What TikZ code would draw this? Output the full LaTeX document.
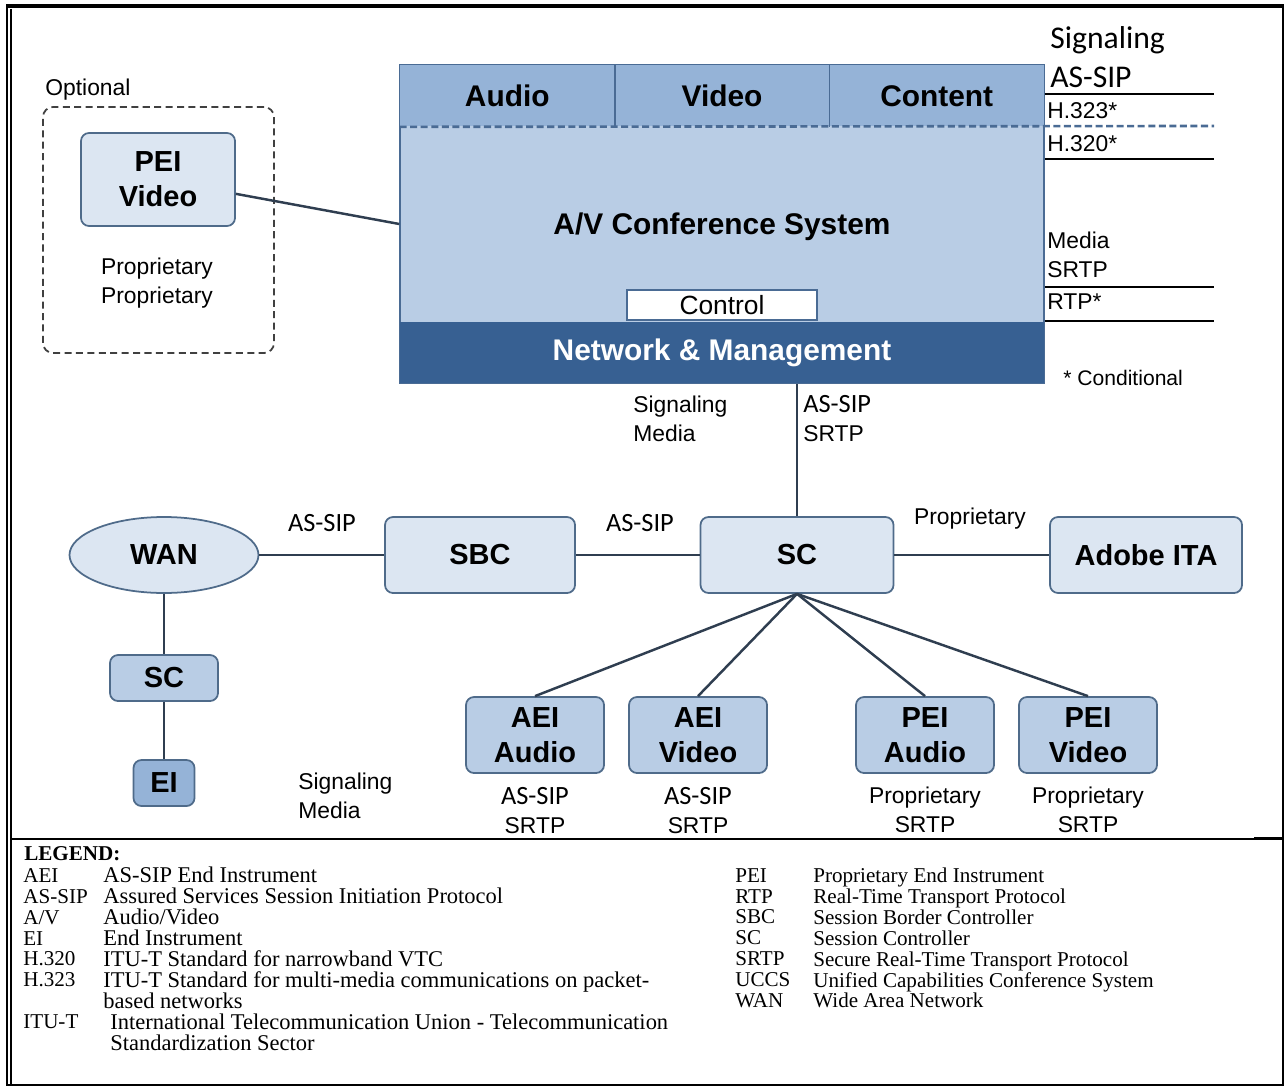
\documentclass[tikz,border=0pt]{standalone}
\usepackage{fontspec}
\setmainfont{Liberation Sans}
\newfontfamily\calibrifont{Carlito}
\newfontfamily\timesfont{Liberation Serif}
\usepackage{tikz}
\usetikzlibrary{positioning, shapes.geometric}
\definecolor{boxline}{HTML}{4F6B8A}
\definecolor{boxlight}{HTML}{DCE6F2}
\definecolor{boxmid}{HTML}{B9CDE5}
\definecolor{boxdark}{HTML}{95B3D7}
\definecolor{netblue}{HTML}{376092}
\definecolor{avline}{HTML}{4A6B94}
\definecolor{wirecol}{HTML}{2F3E50}
\newcommand\sipfont{\calibrifont\fontsize{15}{16.5}\selectfont}

\begin{document}
\begin{tikzpicture}[
    x=0.2mm, y=-0.2mm,
    every node/.style={font=\fontsize{13}{16.5}\selectfont},
    devbox/.style={draw=boxline, line width=1pt, rounded corners=1.6mm, fill=#1, align=center,
      inner sep=0pt, font=\fontsize{16.5}{20}\selectfont\bfseries, minimum width=38mm, minimum height=15.2mm},
    endbox/.style={devbox=boxmid, minimum width=27.6mm},
    band/.style={fill=boxdark, minimum width=42.93mm, minimum height=12.2mm, font=\fontsize{17}{20}\selectfont\bfseries},
    optbox/.style={draw=black!75, line width=1pt, dash pattern=on 4pt off 2.5pt, rounded corners=2mm},
    wire/.style={draw=wirecol, line width=1.4pt},
    protoline/.style={line width=1.4pt},
    sip/.style={font=\sipfont},
    lbl/.style={align=left, anchor=west, inner sep=0pt},
    proto/.style={align=center, inner sep=0pt, below=2.6mm of #1},
    legend/.style={anchor=north west, align=left, inner sep=0pt, font=\timesfont\fontsize{12}{11.9}\selectfont},
  ]
  \useasboundingbox (0,0) rectangle (1285,1087);

  % frame
  \draw[line width=2.2pt] (6,6) -- (1284,6);
  \draw[line width=1pt] (7,6) -- (7,1085) (1283,6) -- (1283,1085);
  \draw[line width=1.4pt] (11,9) -- (11,1085);
  \draw[line width=1.6pt] (6,1085) -- (1284,1085);
  \draw[line width=0.8pt] (11,839) -- (1283,839);
  \draw[line width=1.6pt] (1254,838.5) -- (1283,838.5);

  % optional endpoint
  \node[optbox, minimum width=46.2mm, minimum height=49.2mm] (optional) at (158.5,230) {};
  \node[lbl] (optlabel) at (45,90) {Optional};
  \node[devbox=boxlight, minimum width=30.8mm, minimum height=18.6mm] (pei) at (158,179.5) {PEI\\Video};
  \node[align=center] (peiproto) at (157,283) {Proprietary\\Proprietary};

  % conference system
  \node[draw=avline, line width=0.8pt, fill=boxmid, minimum width=128.8mm, minimum height=63.6mm] (av) at (722,224) {};
  \node[band] (audio) at (507.3,96) {Audio};
  \node[band] (video) at (722,96) {Video};
  \node[band] (content) at (936.7,96) {Content};
  \draw[avline, line width=0.8pt] (audio.north east) -- (audio.south east) (video.north east) -- (video.south east);
  \node[font=\fontsize{17}{20}\selectfont\bfseries] (avtitle) at (722,227) {A/V Conference System};
  \node[fill=netblue, text=white, minimum width=128.8mm, minimum height=12.2mm,
    font=\fontsize{17}{20}\selectfont\bfseries] (netmgmt) at (722,352.5) {Network \& Management};
  \node[draw=avline, line width=0.6pt, fill=white, inner sep=1pt, minimum width=38mm, minimum height=6mm,
    font=\fontsize{15}{17}\selectfont] (control) at (722,305) {Control};
  \draw[avline, line width=0.8pt] (av.north west) rectangle (av.south east);

  % protocols on the right
  \coordinate (sigend) at (1214,94);
  \coordinate (dashend) at (1214,126);
  \coordinate (h320end) at (1214,159);
  \coordinate (srtpend) at (1214,287);
  \coordinate (rtpend) at (1214,321);
  \draw[avline, line width=1.5pt, dash pattern=on 4pt off 2pt] (audio.south west) -- (dashend);
  \draw[protoline] (sigend -| av.east) -- (sigend);
  \draw[protoline] (h320end -| av.east) -- (h320end);
  \draw[protoline] (srtpend -| av.east) -- (srtpend);
  \draw[protoline] (rtpend -| av.east) -- (rtpend);
  \node[lbl, font=\calibrifont\fontsize{18}{20}\selectfont] (siglabel) at (1050,40) {Signaling};
  \node[lbl, font=\calibrifont\fontsize{18}{20}\selectfont] (assiplabel) at (1050,77) {AS-SIP};
  \node[lbl] (h323) at (1047,111) {H.323*};
  \node[lbl] (h320) at (1047,144) {H.320*};
  \node[lbl] (medialabel) at (1047,255) {Media\\SRTP};
  \node[lbl] (rtp) at (1047,302) {RTP*};
  \node[lbl, font=\fontsize{12}{14}\selectfont] (cond) at (1063,378) {* Conditional};

  % network
  \node[ellipse, draw=boxline, line width=1pt, fill=boxlight, inner sep=0pt, minimum width=37.8mm, minimum height=15.2mm,
    font=\fontsize{16.5}{20}\selectfont\bfseries] (wan) at (164,555) {WAN};
  \node[devbox=boxlight] (sbc) at (480,555) {SBC};
  \node[devbox=boxlight, minimum width=38.6mm] (sc) at (797,555) {SC};
  \node[devbox=boxlight, minimum width=38.4mm] (adobe) at (1146,555) {Adobe ITA};
  \node[devbox=boxmid, minimum width=21.6mm, minimum height=9.2mm] (localsc) at (164,678) {SC};
  \node[devbox=boxdark, minimum width=12.2mm, minimum height=9.2mm] (ei) at (164,783) {EI};
  \node[endbox] (aeia) at (535,735) {AEI\\Audio};
  \node[endbox] (aeiv) at (698,735) {AEI\\Video};
  \node[endbox] (peia) at (925,735) {PEI\\Audio};
  \node[endbox] (peiv) at (1088,735) {PEI\\Video};

  \draw[wire] (pei) -- (av.west);
  \draw[wire] (sc.north) -- (sc.north |- av.south);
  \draw[wire] (wan) -- (sbc);
  \draw[wire] (sbc) -- (sc);
  \draw[wire] (sc) -- (adobe);
  \draw[wire] (wan) -- (localsc);
  \draw[wire] (localsc) -- (ei);
  \draw[wire] (sc.south) -- (aeia.north);
  \draw[wire] (sc.south) -- (aeiv.north);
  \draw[wire] (sc.south) -- (peia.north);
  \draw[wire] (sc.south) -- (peiv.north);

  \node[lbl] (avsig) at (633,419) {Signaling\\Media};
  \node[lbl] (avproto) at (803,419) {{\sipfont AS-SIP}\\SRTP};
  \node[sip] (wansbc) at (322,523) {AS-SIP};
  \node[sip] (sbcsc) at (640,523) {AS-SIP};
  \node (scadobe) at (970,519) {Proprietary};
  \node[lbl] (eisig) at (298,796) {Signaling\\Media};
  \node[proto=aeia] (aeiaproto) {{\sipfont AS-SIP}\\SRTP};
  \node[proto=aeiv] (aeivproto) {{\sipfont AS-SIP}\\SRTP};
  \node[proto=peia] (peiaproto) {Proprietary\\SRTP};
  \node[proto=peiv] (peivproto) {Proprietary\\SRTP};

  % legend
  \node[legend, font=\timesfont\fontsize{12}{11.9}\selectfont\bfseries] (legtitle) at (24,846) {LEGEND:};
  \node[legend] (legabbr) at (23,868) {AEI\\AS-SIP\\A/V\\EI\\H.320\\H.323\\\mbox{}\\ITU-T};
  \node[legend, font=\timesfont\fontsize{12.8}{11.9}\selectfont] (legdesc) at (103,867) {AS-SIP End Instrument\\
    Assured Services Session Initiation Protocol\\
    Audio/Video\\
    End Instrument\\
    ITU-T Standard for narrowband VTC\\
    ITU-T Standard for multi-media communications on packet-\\
    based networks\\
    \hspace*{1.4mm}International Telecommunication Union - Telecommunication\\
    \hspace*{1.4mm}Standardization Sector};
  \node[legend] (legabbr2) at (735,868) {PEI\\RTP\\SBC\\SC\\SRTP\\UCCS\\WAN};
  \node[legend] (legdesc2) at (813,867.5) {Proprietary End Instrument\\
    Real-Time Transport Protocol\\
    Session Border Controller\\
    Session Controller\\
    Secure Real-Time Transport Protocol\\
    Unified Capabilities Conference System\\
    Wide Area Network};
\end{tikzpicture}
\end{document}
